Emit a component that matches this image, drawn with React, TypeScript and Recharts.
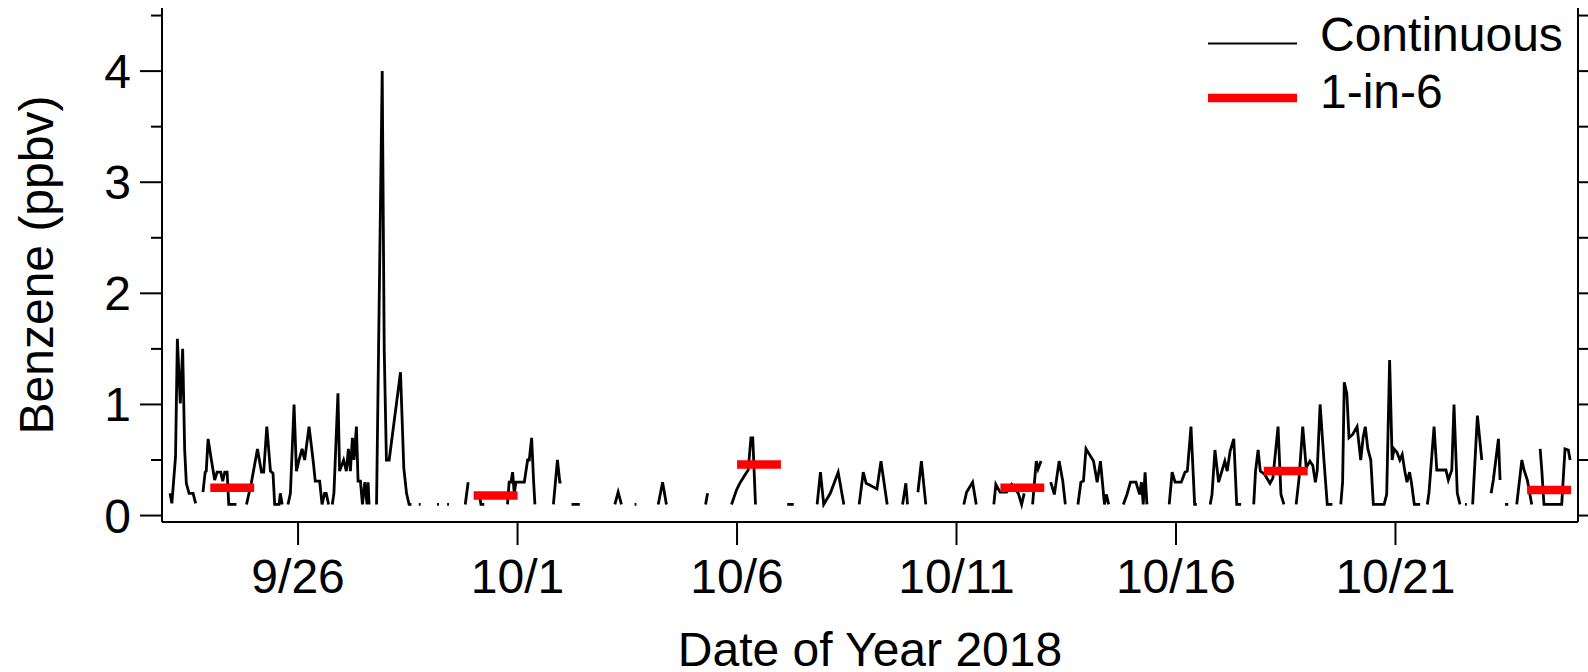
import { Label, Legend, Line, LineChart, XAxis, YAxis } from "recharts";

const FONT = '"Liberation Sans", Arial, sans-serif';

// hours since 2018-09-23 00:00, benzene in ppbv (null = no data)
const continuousReadings: [number, number | null][] = [
  [2, 0.2], [3, 0.11], [5, 0.53], [6, 1.59], [7.6, 1.01], [8.9, 1.5], [10, 0.59], [10.9, 0.29], [12.4, 0.2], [14.6, 0.2], [16, 0.11],
  [18, null],
  [20, 0.21], [21.2, 0.39], [21.8, 0.4], [22.8, 0.69], [24.6, 0.5], [26.4, 0.32], [27.7, 0.39], [29.7, 0.39], [30.8, 0.31], [31.9, 0.39], [33.2, 0.39], [34.1, 0.1], [38.3, 0.1],
  [41, null],
  [43.8, 0.1], [46.5, 0.3], [49.8, 0.6], [52, 0.39], [53.2, 0.39], [54.9, 0.8], [56.9, 0.4], [58.3, 0.38], [59.2, 0.1], [61.6, 0.1], [62.3, 0.2], [63.3, 0.1],
  [65, null],
  [66.5, 0.1], [67.8, 0.2], [69.8, 1.0], [71.1, 0.4], [72.5, 0.5], [74.2, 0.6], [75.6, 0.5], [78, 0.8], [80.2, 0.5], [81.4, 0.31], [83.8, 0.31], [85.1, 0.1], [86.5, 0.2], [87.4, 0.2], [88.7, 0.1],
  [89.7, null],
  [90.7, 0.1], [91.6, 0.2], [93.8, 1.1], [94.7, 0.4], [96.9, 0.5], [98.4, 0.4], [99.5, 0.6], [100.6, 0.4], [101.7, 0.7], [102.6, 0.5], [103.9, 0.8], [104.8, 0.31], [106.1, 0.31], [107.2, 0.1], [108.5, 0.3], [109.7, 0.1], [110.3, 0.3], [110.8, 0.1],
  [113, null],
  [114.9, 0.1], [118, 4.0], [119.1, 1.49], [120.3, 0.5], [121.8, 0.5], [128, 1.29], [129.8, 0.43], [131.3, 0.2], [132.7, 0.1], [134, 0.1],
  [136, null],
  [138, 0.1], [139, 0.1], [143, null], [148, 0.1], [149, 0.1], [151, null], [153.5, 0.1], [154.5, 0.1],
  [158, null],
  [163.4, 0.1], [165, 0.3],
  [168, null],
  [171, 0.2], [172, 0.1], [173.8, 0.1],
  [180, null],
  [186.5, 0.1], [187.4, 0.3], [188.4, 0.3], [189.3, 0.39], [190.2, 0.2], [191.1, 0.3], [195.7, 0.3], [197.5, 0.5], [198.4, 0.5], [199.7, 0.7], [200.8, 0.3], [201.5, 0.1],
  [206, null],
  [211.6, 0.1], [213.8, 0.5], [215.1, 0.3], [216, 0.3],
  [218, null],
  [221.5, 0.1], [226, 0.1],
  [235, null],
  [245.2, 0.1], [247, 0.21], [248.8, 0.1],
  [252, null],
  [256, 0.1], [257, 0.1],
  [262, null],
  [268.9, 0.1], [271.3, 0.3], [273.4, 0.1],
  [285, null],
  [294.8, 0.1], [295.9, 0.2],
  [302, null],
  [309, 0.1], [311.7, 0.23], [313.5, 0.29], [315.7, 0.35], [318.1, 0.41], [319.6, 0.7], [320.6, 0.7], [322.1, 0.1],
  [330, null],
  [339.4, 0.1], [343, 0.1],
  [350, null],
  [355.8, 0.1], [357.6, 0.39], [359.4, 0.1], [363, 0.2], [367.3, 0.39], [370.4, 0.1],
  [375, null],
  [378.8, 0.1], [381, 0.39], [382.6, 0.29], [385, 0.27], [388.5, 0.24], [390.7, 0.49], [394.1, 0.1],
  [399, null],
  [402.5, 0.1], [404.3, 0.29], [405.2, 0.1],
  [408, null],
  [410.9, 0.21], [412.8, 0.49], [415.2, 0.1],
  [430, null],
  [436, 0.1], [437.5, 0.21], [440.8, 0.3], [442.8, 0.1],
  [448, null],
  [452.4, 0.1], [453.5, 0.28], [455.8, 0.21], [459.4, 0.21], [462.2, 0.28], [465.8, 0.2], [467.6, 0.1], [469, 0.2],
  [471, null],
  [473.6, 0.1], [475.6, 0.49], [476.6, 0.42], [478.2, 0.49],
  [481, null],
  [483.5, 0.3], [485.5, 0.19], [488.1, 0.49], [490.1, 0.31], [491.5, 0.1],
  [495, null],
  [498.4, 0.1], [500, 0.3], [501.4, 0.31], [502.8, 0.6], [506.9, 0.49], [508.9, 0.3], [510.7, 0.49], [512.9, 0.1], [513.9, 0.19], [515.2, 0.1],
  [519, null],
  [523.2, 0.1], [525.2, 0.19], [527.1, 0.3], [530.1, 0.3], [532.1, 0.19], [533.1, 0.3], [534.1, 0.1], [535.1, 0.39], [536.1, 0.1],
  [542, null],
  [548.3, 0.1], [549.9, 0.39], [551.5, 0.3], [554.9, 0.3], [556.9, 0.39], [558.2, 0.4], [560.2, 0.8], [562.2, 0.1], [563.4, 0.1],
  [567, null],
  [570.7, 0.1], [571.7, 0.19], [573.3, 0.59], [575.3, 0.3], [578.7, 0.49], [580, 0.4], [581.6, 0.58], [583.6, 0.69], [585.2, 0.1], [587.6, 0.1],
  [591, null],
  [594.5, 0.1], [595.5, 0.4], [596.9, 0.59], [598.1, 0.4], [600.5, 0.37], [603.4, 0.29], [605, 0.34], [607.8, 0.8], [609.4, 0.19], [611, 0.1],
  [614, null],
  [617.7, 0.1], [619.3, 0.34], [621.3, 0.8], [623.2, 0.43], [625.2, 0.49], [626.8, 0.45], [628.2, 0.3], [629.2, 0.4], [630.8, 1.0], [632.8, 0.52], [634.7, 0.1], [637.5, 0.1],
  [640, null],
  [642.1, 0.1], [643.1, 0.3], [644, 1.2], [645.4, 1.1], [646.6, 0.7], [648.6, 0.73], [651, 0.8], [653, 0.5], [654.3, 0.7], [655.5, 0.8], [656.9, 0.6], [658.5, 0.5], [659.9, 0.1], [665.8, 0.1], [667.2, 0.19], [668.8, 1.4], [670.2, 0.5], [671.2, 0.6], [672.8, 0.57], [674.4, 0.5], [675.7, 0.55], [677.1, 0.4], [678.3, 0.3], [679.7, 0.39], [680.7, 0.3], [682.3, 0.1], [685.5, 0.1],
  [687.5, null],
  [689.4, 0.1], [690.3, 0.2], [693.1, 0.8], [694.6, 0.41], [699.6, 0.41], [700.9, 0.32], [702.8, 0.41], [704, 1.0], [705.8, 0.2], [707.3, 0.1],
  [708.5, null],
  [710, 0.1], [711, 0.1],
  [713, null],
  [714.2, 0.1], [716.8, 0.9], [719.2, 0.5],
  [722, null],
  [724.3, 0.2], [725.5, 0.32], [728.3, 0.69], [729.2, 0.32],
  [730.5, null],
  [731.9, 0.1], [733.7, 0.1],
  [736, null],
  [738.3, 0.1], [741.1, 0.5], [742.3, 0.41], [744.1, 0.32], [746.5, 0.1],
  [749, null],
  [751.1, 0.6], [752, 0.41], [753.2, 0.1], [762.9, 0.1], [764.7, 0.6], [766.5, 0.59], [767.5, 0.5],
];

// 24-h canister samples (1-in-6 day schedule)
const sampleStartHours = [24, 168, 312, 456, 600, 744];
const samplePpbv = [0.25, 0.18, 0.46, 0.25, 0.4, 0.23];

const dateTicks = [72, 192, 312, 432, 552, 672];
const dateLabels = ["9/26", "10/1", "10/6", "10/11", "10/16", "10/21"];
const ppbvTicks = [0, 0.5, 1, 1.5, 2, 2.5, 3, 3.5, 4, 4.5];

const continuousData = continuousReadings.map(([t, v]) => ({ t, v }));
const sampleData = sampleStartHours.flatMap((h, i) => [
  { t: h, v: samplePpbv[i] },
  { t: h + 24, v: samplePpbv[i] },
  { t: h + 24, v: null }
]);

function DateTick({ x, y, payload }: any) {
  const label = dateLabels[dateTicks.indexOf(payload.value)];
  return (
    <g>
      <line x1={x} x2={x} y1={y} y2={y + 23} stroke="#000" strokeWidth={2} />
      <text x={x} y={y + 71} textAnchor="middle" fontSize={48} fontFamily={FONT} fill="#000">
        {label}
      </text>
    </g>
  );
}

function LeftTick({ x, y, payload }: any) {
  const major = Number.isInteger(payload.value);
  return (
    <g>
      <line x1={x - (major ? 22 : 11)} x2={x} y1={y} y2={y} stroke="#000" strokeWidth={2} />
      {major && (
        <text x={x - 31} y={y + 17} textAnchor="end" fontSize={48} fontFamily={FONT} fill="#000">
          {payload.value}
        </text>
      )}
    </g>
  );
}

function RightTick({ x, y, payload }: any) {
  const major = Number.isInteger(payload.value);
  return <line x1={x} x2={x + (major ? 22 : 11)} y1={y} y2={y} stroke="#000" strokeWidth={2} />;
}

function LegendBox() {
  return (
    <svg width={380} height={120}>
      <line x1={0} x2={89} y1={35.5} y2={35.5} stroke="#000" strokeWidth={2} />
      <text x={112} y={43} fontSize={48} fontFamily={FONT} fill="#000">
        Continuous
      </text>
      <line x1={0} x2={89} y1={90} y2={90} stroke="#ff0000" strokeWidth={8.5} />
      <text x={112} y={100} fontSize={48} fontFamily={FONT} fill="#000">
        1-in-6
      </text>
    </svg>
  );
}

export default function App() {
  const domainY: [number, number] = [-0.058, 4.568];
  return (
    <div style={{ position: "absolute", left: 0, top: 0, background: "#fff" }}>
      <LineChart width={1588} height={672} margin={{ top: 8, right: 0, bottom: 0, left: 0 }}>
        <XAxis
          dataKey="t"
          type="number"
          domain={[-2.4, 771.8]}
          allowDataOverflow
          ticks={dateTicks}
          interval={0}
          tick={<DateTick />}
          tickLine={false}
          tickSize={0}
          tickMargin={0}
          axisLine={{ stroke: "#000", strokeWidth: 2 }}
          height={150}
        >
          <Label
            content={() => (
              <text x={870} y={666} textAnchor="middle" fontSize={48} fontFamily={FONT} fill="#000">
                Date of Year 2018
              </text>
            )}
          />
        </XAxis>
        <XAxis
          xAxisId="top"
          orientation="top"
          dataKey="t"
          type="number"
          domain={[-2.4, 771.8]}
          allowDataOverflow
          tick={false}
          tickLine={false}
          height={0}
          axisLine={{ stroke: "#000", strokeWidth: 2 }}
        />
        <YAxis
          type="number"
          domain={domainY}
          allowDataOverflow
          ticks={ppbvTicks}
          interval={0}
          tick={<LeftTick />}
          tickLine={false}
          tickSize={0}
          tickMargin={0}
          axisLine={{ stroke: "#000", strokeWidth: 2 }}
          width={162}
        >
          <Label
            content={() => (
              <text
                transform="translate(53,265) rotate(-90)"
                textAnchor="middle"
                fontSize={48}
                fontFamily={FONT}
                fill="#000"
              >
                Benzene (ppbv)
              </text>
            )}
          />
        </YAxis>
        <YAxis
          yAxisId="r"
          orientation="right"
          type="number"
          domain={domainY}
          allowDataOverflow
          ticks={ppbvTicks}
          interval={0}
          tick={<RightTick />}
          tickLine={false}
          tickSize={0}
          tickMargin={0}
          axisLine={{ stroke: "#000", strokeWidth: 2 }}
          width={10}
        />
        <Line
          data={continuousData}
          dataKey="v"
          type="linear"
          stroke="#000"
          strokeWidth={2.8}
          dot={false}
          connectNulls={false}
          isAnimationActive={false}
          name="Continuous"
        />
        <Line
          data={sampleData}
          dataKey="v"
          type="linear"
          stroke="#ff0000"
          strokeWidth={8.5}
          strokeLinecap="butt"
          dot={false}
          connectNulls={false}
          isAnimationActive={false}
          name="1-in-6"
        />
        <Legend
          layout="horizontal"
          verticalAlign="middle"
          align="center"
          content={() => <LegendBox />}
          wrapperStyle={{ left: 1208, top: 8, width: 380, height: 120 }}
        />
      </LineChart>
    </div>
  );
}
